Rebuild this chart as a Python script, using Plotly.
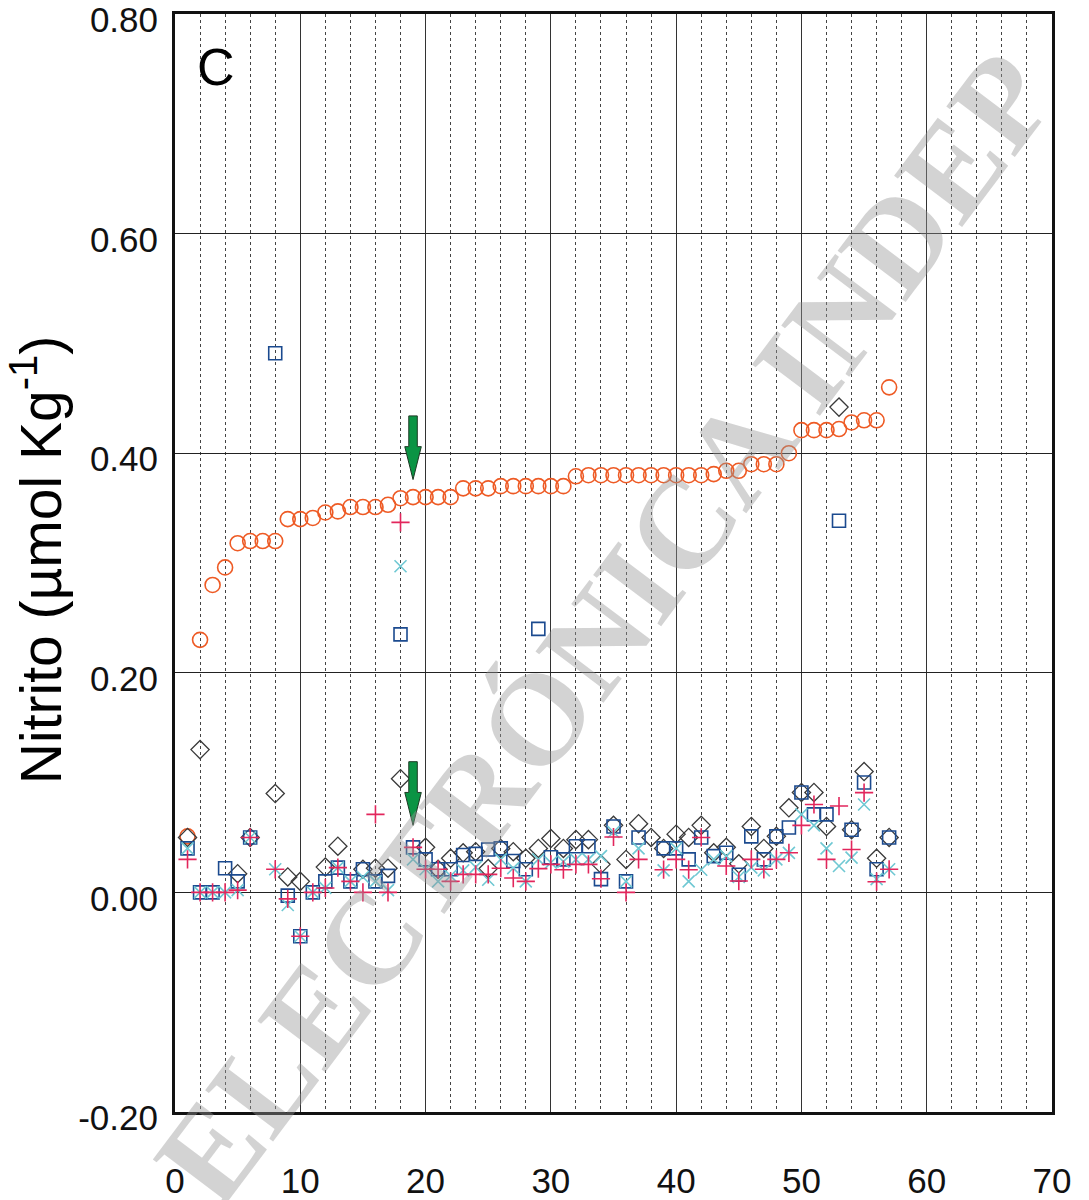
import plotly.graph_objects as go

# ---------------- data ----------------
station = list(range(1, 58))

circle_vals = [0.051, 0.230, 0.280, 0.296, 0.318, 0.320, 0.320, 0.320, 0.340, 0.340,
               0.341, 0.346, 0.347, 0.351, 0.351, 0.351, 0.353, 0.359, 0.360, 0.360,
               0.360, 0.360, 0.368, 0.368, 0.368, 0.370, 0.370, 0.370, 0.370, 0.370,
               0.370, 0.379, 0.380, 0.380, 0.380, 0.380, 0.380, 0.380, 0.380, 0.380,
               0.380, 0.380, 0.381, 0.384, 0.384, 0.390, 0.390, 0.390, 0.400, 0.421,
               0.421, 0.421, 0.422, 0.428, 0.430, 0.430, 0.460]

square_vals = [0.040, 0.000, 0.000, 0.022, 0.010, 0.050, None, 0.491, -0.003, -0.040,
               0.000, 0.010, 0.0225, 0.010, 0.021, 0.010, 0.015, 0.235, 0.041, 0.030,
               0.021, 0.021, 0.034, 0.035, 0.039, 0.040, 0.0285, 0.021, 0.240, 0.032,
               0.030, 0.042, 0.042, 0.012, 0.060, 0.010, 0.050, None, 0.040, 0.040,
               0.030, 0.050, 0.033, 0.036, 0.016, 0.051, 0.030, 0.051, 0.059, 0.091,
               0.071, 0.071, 0.3385, 0.057, 0.100, 0.021, 0.050]

diamond_vals = [0.050, 0.130, None, None, 0.017, 0.050, None, 0.090, 0.014, 0.010,
                None, 0.023, 0.042, None, 0.021, 0.022, 0.022, 0.1035, None, 0.041,
                0.021, 0.031, 0.036, 0.037, 0.0216, 0.040, 0.037, 0.031, 0.040, 0.049,
                0.040, 0.048, 0.048, 0.0255, 0.061, 0.030, 0.0625, 0.050, 0.040, 0.053,
                0.050, 0.061, 0.036, 0.041, 0.026, 0.060, 0.040, 0.051, 0.077, 0.091,
                0.091, 0.060, 0.442, 0.057, 0.110, 0.031, 0.050]

x_vals = [0.040, 0.000, 0.000, 0.000, 0.002, 0.050, None, 0.021, -0.0115, -0.040,
          0.000, 0.004, 0.0225, 0.010, 0.014, 0.010, 0.002, 0.297, 0.030, 0.021,
          0.010, 0.015, 0.020, 0.023, 0.0115, 0.030, 0.022, 0.010, 0.030, 0.027,
          0.028, 0.030, 0.030, 0.033, 0.055, 0.010, 0.040, None, 0.020, 0.040,
          0.010, 0.0206, 0.030, 0.033, 0.014, 0.0225, 0.020, 0.030, 0.036, 0.071,
          0.061, 0.040, 0.024, 0.0316, 0.080, 0.012, 0.021]

plus_vals = [0.030, 0.000, 0.000, 0.000, 0.002, 0.050, None, 0.021, -0.006, -0.040,
             0.000, 0.004, 0.0225, 0.010, 0.000, 0.071, 0.000, 0.337, 0.041, 0.021,
             0.021, 0.010, 0.0164, 0.0164, 0.0164, 0.022, 0.013, 0.010, 0.0216, 0.0255,
             0.0206, 0.0255, 0.0255, 0.0124, 0.0504, 0.000, 0.030, None, 0.0206, 0.030,
             0.0206, 0.050, None, 0.024, 0.0103, 0.030, 0.021, 0.030, 0.036, 0.061,
             0.080, 0.030, 0.0786, 0.039, 0.0908, 0.0097, 0.021]

# marker arrows (station, tip value)
arrow_station = 19
arrow_tips = [0.376, 0.061]

x_ticks = [0, 10, 20, 30, 40, 50, 60, 70]
y_ticks = [-0.20, 0.00, 0.20, 0.40, 0.60, 0.80]
y_tick_text = ["-0.20", "0.00", "0.20", "0.40", "0.60", "0.80"]

panel_label = "C"
y_title = "Nitrito (µmol Kg<sup>-1</sup>)"
watermark = "ELECTRÓNICA INDEP"

# ---------------- figure ----------------
FONT = "Arial, Liberation Sans, sans-serif"
fig = go.Figure()

fig.add_trace(go.Scatter(
    x=station, y=circle_vals, mode="markers",
    marker=dict(symbol="circle-open", size=15, color="#ee5a24",
                line=dict(width=1.6, color="#ee5a24")), showlegend=False))
fig.add_trace(go.Scatter(
    x=station, y=diamond_vals, mode="markers",
    marker=dict(symbol="diamond-open", size=14, color="#3a3a3a",
                line=dict(width=1.3, color="#3a3a3a")), showlegend=False))
fig.add_trace(go.Scatter(
    x=station, y=square_vals, mode="markers",
    marker=dict(symbol="square-open", size=13, color="#1b4a8f",
                line=dict(width=1.6, color="#1b4a8f")), showlegend=False))
fig.add_trace(go.Scatter(
    x=station, y=x_vals, mode="markers",
    marker=dict(symbol="x-thin-open", size=12, color="#6fc8d3",
                line=dict(width=1.6, color="#6fc8d3")), showlegend=False))
fig.add_trace(go.Scatter(
    x=station, y=plus_vals, mode="markers",
    marker=dict(symbol="cross-thin-open", size=13, color="#e2265c",
                line=dict(width=1.6, color="#e2265c")), showlegend=False))

# block arrows
shaft_hw, head_hw = 0.34, 0.66
shaft_len, head_len = 0.058, 0.030
for tip in arrow_tips:
    xc = arrow_station
    top = tip + shaft_len
    base = tip + head_len
    path = (f"M {xc - shaft_hw},{top} L {xc + shaft_hw},{top} L {xc + shaft_hw},{base} "
            f"L {xc + head_hw},{base} L {xc},{tip} L {xc - head_hw},{base} "
            f"L {xc - shaft_hw},{base} Z")
    fig.add_shape(type="path", path=path, xref="x", yref="y",
                  fillcolor="#0b9444", line=dict(color="#1e3b25", width=1))

fig.update_xaxes(
    range=[0, 70], tickvals=x_ticks, ticks="", ticklabelstandoff=36, automargin=False,
    ticklabeloverflow="allow",
    tickfont=dict(family=FONT, size=35, color="#111"),
    showgrid=True, gridcolor="#333", gridwidth=1,
    minor=dict(dtick=2, showgrid=True, griddash="dot", gridcolor="#444", gridwidth=1),
    showline=True, mirror=True, linecolor="#111", linewidth=3, zeroline=False)
fig.update_yaxes(
    range=[-0.2001, 0.8001], tickvals=y_ticks, ticktext=y_tick_text, ticks="",
    ticklabelstandoff=7, ticklabelshift=6, automargin=False,
    ticklabeloverflow="allow",
    tickfont=dict(family=FONT, size=35, color="#111"),
    showgrid=True, gridcolor="#222", gridwidth=1,
    showline=True, mirror=True, linecolor="#111", linewidth=3, zeroline=False)

fig.add_annotation(text=panel_label, xref="paper", yref="paper", x=0.0468, y=0.9517,
                   xanchor="center", yanchor="middle", showarrow=False,
                   font=dict(family=FONT, size=52, color="#000"))
fig.add_annotation(text=y_title, xref="paper", yref="paper", x=-0.158, y=0.503,
                   xanchor="center", yanchor="middle", textangle=-90, showarrow=False,
                   font=dict(family=FONT, size=57, color="#000"))
fig.add_annotation(text=watermark, xref="paper", yref="paper", x=0.49, y=0.441,
                   xanchor="center", yanchor="middle", textangle=-53, showarrow=False,
                   font=dict(family="Liberation Serif, DejaVu Serif, serif", size=130,
                             color="rgba(150,150,150,0.42)", weight="bold"))

# page body adds an 8 px offset; margins compensate so the plot area lands where the reference has it
fig.update_layout(
    width=1089, height=1200,
    margin=dict(l=167, r=45, t=6, b=96),
    plot_bgcolor="white", paper_bgcolor="white",
    font=dict(family=FONT),
)

fig.write_html("out.html")
